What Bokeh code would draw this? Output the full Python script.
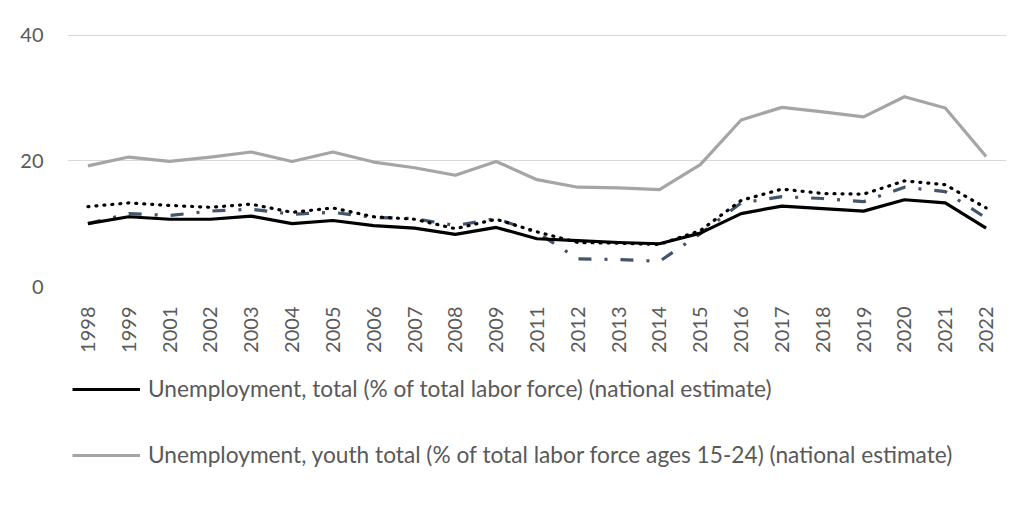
import math
from bokeh.plotting import figure
from bokeh.layouts import column
from bokeh.models import ColumnDataSource, FixedTicker, Legend, LegendItem, Range1d
from bokeh.embed import file_html
from bokeh.resources import INLINE

years = ["1998", "1999", "2001", "2002", "2003", "2004", "2005", "2006", "2007",
         "2008", "2009", "2011", "2012", "2013", "2014", "2015", "2016", "2017",
         "2018", "2019", "2020", "2021", "2022"]

total = [10.0, 11.1, 10.7, 10.7, 11.2, 10.0, 10.5, 9.7, 9.3, 8.3, 9.4, 7.6,
         7.3, 7.0, 6.8, 8.5, 11.6, 12.8, 12.4, 12.0, 13.8, 13.3, 9.3]
youth = [19.2, 20.6, 19.9, 20.6, 21.4, 19.9, 21.4, 19.8, 18.9, 17.7, 19.9, 17.0,
         15.8, 15.7, 15.4, 19.4, 26.5, 28.5, 27.8, 27.0, 30.2, 28.4, 20.7]
series_dotted = [12.7, 13.3, 12.9, 12.6, 13.1, 11.8, 12.5, 11.1, 10.7, 9.2, 10.7, 8.7,
                 7.0, 6.9, 6.7, 8.9, 13.7, 15.5, 14.8, 14.7, 16.8, 16.2, 12.5]
series_dashdot = [10.0, 11.6, 11.3, 12.0, 12.3, 11.5, 11.8, 11.0, 10.8, 9.7, 10.8, 8.6,
                  4.4, 4.3, 4.0, 8.4, 13.3, 14.3, 14.0, 13.5, 15.8, 15.1, 10.9]

y_ticks = [0, 20, 40]
label_total = "Unemployment, total (% of total labor force) (national estimate)"
label_youth = "Unemployment, youth total (% of total labor force ages 15-24) (national estimate)"

src = ColumnDataSource(dict(year=years, total=total, youth=youth,
                            dotted=series_dotted, dashdot=series_dashdot))

FONT = "Lato"
TXT = "#595959"
GRID = "#d9d9d9"

STY_TOTAL = dict(line_color="#000000", line_width=3.2, line_join="round")
STY_YOUTH = dict(line_color="#a5a5a5", line_width=3.2, line_join="round")

p = figure(x_range=years, y_range=Range1d(0, 40.1), width=1024, height=356,
           output_backend="svg", toolbar_location=None,
           min_border_left=67, min_border_right=18, min_border_top=34,
           min_border_bottom=70)
p.outline_line_color = None
p.background_fill_color = "white"
p.border_fill_color = "white"

p.xgrid.grid_line_color = None
p.ygrid.grid_line_color = GRID
p.ygrid.grid_line_width = 1
p.yaxis.ticker = FixedTicker(ticks=y_ticks)

for ax in (p.xaxis, p.yaxis):
    ax.axis_line_color = None
    ax.major_tick_line_color = None
    ax.minor_tick_line_color = None
    ax.major_label_text_font = FONT
    ax.major_label_text_color = TXT
    ax.major_label_text_font_size = "20px"

p.yaxis.major_label_standoff = 18
p.xaxis.major_label_standoff = 14
p.xaxis.major_label_orientation = math.pi / 2

p.line("year", "youth", source=src, **STY_YOUTH)
p.line("year", "dashdot", source=src, line_color="#44546a", line_width=3.2,
       line_dash="13 13 3 13", line_join="round")
p.line("year", "dotted", source=src, line_color="#000000", line_width=3.2,
       line_dash="1 7", line_cap="round", line_join="round")
p.line("year", "total", source=src, **STY_TOTAL)

# legend panel below the chart (its series are drawn out of view, only legend shows)
q = figure(width=1024, height=149, output_backend="svg", toolbar_location=None,
           x_axis_location=None, y_axis_location=None,
           min_border_left=0, min_border_right=0, min_border_top=0, min_border_bottom=0,
           x_range=years, y_range=Range1d(100, 101))
q.outline_line_color = None
q.grid.visible = False
q.background_fill_color = "white"
q.border_fill_color = "white"
l_total = q.line("year", "total", source=src, **STY_TOTAL)
l_youth = q.line("year", "youth", source=src, **STY_YOUTH)

legend = Legend(items=[LegendItem(label=label_total, renderers=[l_total]),
                       LegendItem(label=label_youth, renderers=[l_youth])],
                orientation="vertical", location=(5, 37))
legend.border_line_color = None
legend.background_fill_alpha = 0
legend.label_text_font = FONT
legend.label_text_color = TXT
legend.label_text_font_size = "22.7px"
legend.glyph_width = 68
legend.glyph_height = 20
legend.label_height = 20
legend.label_standoff = 8
legend.spacing = 39
legend.padding = 0
legend.margin = 0
q.add_layout(legend, "center")

open("out.html", "w").write(file_html(column(p, q, spacing=0), INLINE))
